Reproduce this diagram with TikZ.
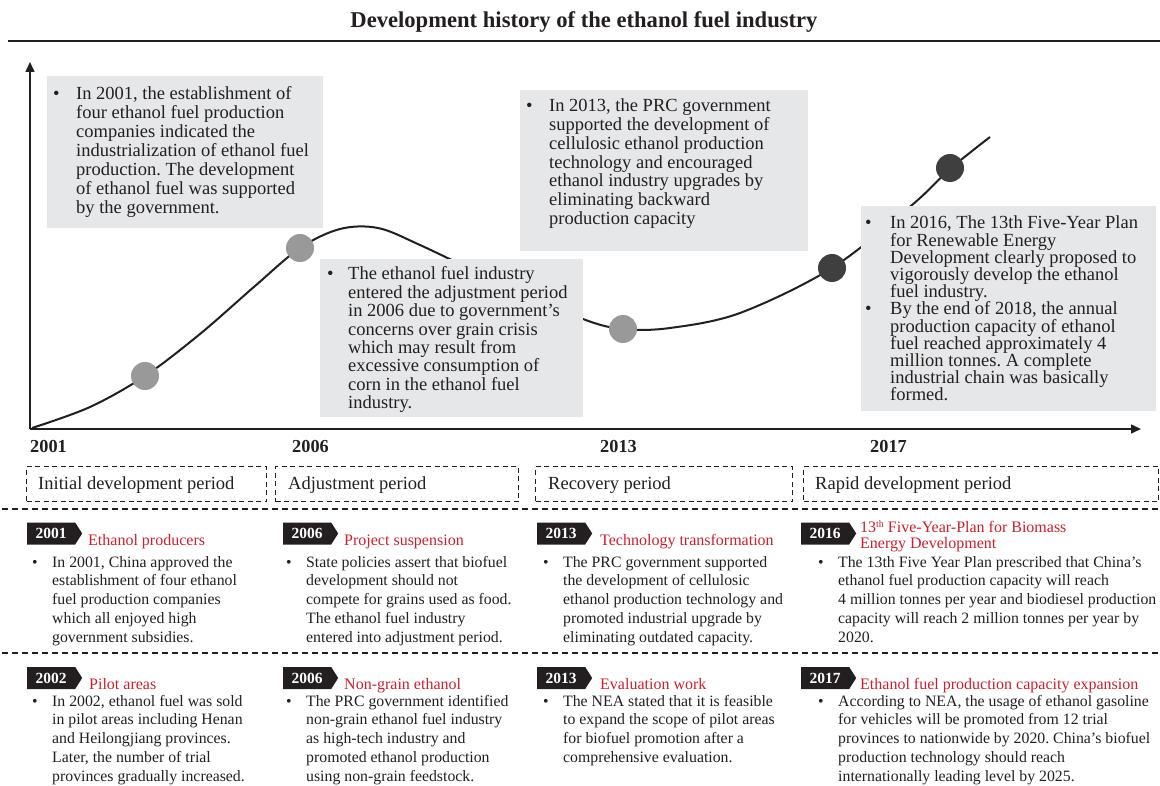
\documentclass[tikz,border=0pt]{standalone}
\usepackage{fontspec}
\setmainfont{Liberation Serif}
\usetikzlibrary{arrows.meta,shapes.symbols}
\frenchspacing
\definecolor{boxgray}{HTML}{E6E7E8}
\definecolor{dotgray}{HTML}{999999}
\definecolor{dotdark}{HTML}{3F3F3F}
\definecolor{headred}{HTML}{C8202F}
\definecolor{txt}{HTML}{231F20}
\newlength\bulw
\newcommand\bitem[1]{\par\hangindent=\bulw\hangafter=1\noindent\makebox[\bulw][l]{\textbullet}#1}
\newcommand\blist[2]{\parbox[t]{420pt}{\frenchspacing\setlength\bulw{#1}\setlength\parskip{0pt}#2}}
\newcommand\hlist[1]{\parbox[t]{400pt}{\noindent #1}}
\begin{document}
\begin{tikzpicture}[x=1pt,y=-1pt,
  gbox/.style={fill=boxgray, draw=none, anchor=north west, inner sep=0pt},
  btxt/.style={anchor=base west, inner sep=0pt, text=txt},
  axis/.style={line width=1.5pt, draw=txt, -{Triangle[length=10pt,width=9pt]}},
  curveline/.style={line width=2pt, draw=txt},
  dotL/.style={circle, fill=dotgray, minimum size=28pt, inner sep=0pt},
  dotD/.style={circle, fill=dotdark, minimum size=28pt, inner sep=0pt},
  yearlbl/.style={anchor=base west, inner sep=0pt, text=txt, font=\fontsize{18.3}{18.3}\selectfont\bfseries},
  pbox/.style={draw=txt, line width=1.1pt, dash pattern=on 5pt off 3.5pt, anchor=north west, inner sep=0pt},
  ptxt/.style={anchor=base west, inner sep=0pt, text=txt, font=\fontsize{18.5}{18.5}\selectfont},
  sepline/.style={draw=txt, line width=1.3pt, dash pattern=on 6pt off 4pt},
  tag/.style={shape=signal, signal to=east, signal pointer angle=115, fill=txt, text=white,
    font=\fontsize{15.5}{15.5}\selectfont\bfseries, minimum width=55pt, minimum height=22pt,
    inner sep=0pt, anchor=west},
  head/.style={anchor=base west, inner sep=0pt, text=headred, font=\fontsize{16}{16}\selectfont},
  small/.style={anchor=base west, inner sep=0pt, text=txt, font=\fontsize{15.8}{18.9}\selectfont}
]
\useasboundingbox (0,0) rectangle (1160,786);

% title
\node[font=\fontsize{22.6}{22.6}\selectfont\bfseries, text=txt] (title) at (584,22) {Development history of the ethanol fuel industry};
\coordinate (r1) at (8,41);
\coordinate (r2) at (1160,41);
\draw[line width=1.5pt, draw=txt] (r1) -- (r2);

% axes
\coordinate (O) at (30,429);
\coordinate (Ytop) at (30,62);
\coordinate (Xend) at (1141,429);
\draw[axis] (O) -- (Ytop);
\draw[axis] (O) -- (Xend);

% curve
\draw[curveline] plot[smooth, tension=0.55] coordinates {(32,428) (90,407) (145,376) (200,334) (255,286) (300,248) (340,229) (378,228) (420,245) (500,283) (583,319) (623,329) (670,328) (740,313) (832,268) (912,205) (950,169) (990,137)};

% gray boxes
\node[gbox, minimum width=276pt, minimum height=152pt] (b1) at (47,76) {};
\node[gbox, minimum width=288pt, minimum height=161pt] (b2) at (520,90) {};
\node[gbox, minimum width=263pt, minimum height=158pt] (b3) at (320,259) {};
\node[gbox, minimum width=295pt, minimum height=205pt] (b4) at (861,206) {};

\node[btxt, font=\fontsize{18.5}{19}\selectfont] (t1) at (53,100) {\blist{23pt}{%
\bitem{In 2001, the establishment of\\
four ethanol fuel production\\
companies indicated the\\
industrialization of ethanol fuel\\
production. The development\\
of ethanol fuel was supported\\
by the government.}}};

\node[btxt, font=\fontsize{18.5}{18.7}\selectfont] (t2) at (526,112) {\blist{23pt}{%
\bitem{In 2013, the PRC government\\
supported the development of\\
cellulosic ethanol production\\
technology and encouraged\\
ethanol industry upgrades by\\
eliminating backward\\
production capacity}}};

\node[btxt, font=\fontsize{18.5}{18.4}\selectfont] (t3) at (327,280) {\blist{21pt}{%
\bitem{The ethanol fuel industry\\
entered the adjustment period\\
in 2006 due to government’s\\
concerns over grain crisis\\
which may result from\\
excessive consumption of\\
corn in the ethanol fuel\\
industry.}}};

\node[btxt, font=\fontsize{18.5}{17.2}\selectfont] (t4) at (865,229) {\blist{25pt}{%
\bitem{In 2016, The 13th Five-Year Plan\\
for Renewable Energy\\
Development clearly proposed to\\
vigorously develop the ethanol\\
fuel industry.}
\bitem{By the end of 2018, the annual\\
production capacity of ethanol\\
fuel reached approximately 4\\
million tonnes. A complete\\
industrial chain was basically\\
formed.}}};

% dots
\node[dotL] (d1) at (145,376) {};
\node[dotL] (d2) at (300,248) {};
\node[dotL] (d3) at (623,329) {};
\node[dotD] (d4) at (832,268) {};
\node[dotD] (d5) at (950,168) {};

% year labels
\node[yearlbl] (y1) at (30,453) {2001};
\node[yearlbl] (y2) at (292,453) {2006};
\node[yearlbl] (y3) at (600,453) {2013};
\node[yearlbl] (y4) at (870,453) {2017};

% period boxes
\node[pbox, minimum width=240pt, minimum height=35pt] (p1) at (26,466) {};
\node[pbox, minimum width=243pt, minimum height=35pt] (p2) at (275,466) {};
\node[pbox, minimum width=257pt, minimum height=35pt] (p3) at (535,466) {};
\node[pbox, minimum width=355pt, minimum height=35pt] (p4) at (803,466) {};
\node[ptxt] (pt1) at (38,489) {Initial development period};
\node[ptxt] (pt2) at (288,489) {Adjustment period};
\node[ptxt] (pt3) at (548,489) {Recovery period};
\node[ptxt] (pt4) at (815,489) {Rapid development period};

% separators
\coordinate (s1a) at (2,509);
\coordinate (s1b) at (1160,509);
\coordinate (s2a) at (2,653);
\coordinate (s2b) at (1160,653);
\draw[sepline] (s1a) -- (s1b);
\draw[sepline] (s2a) -- (s2b);

% row 1
\node[tag] (g11) at (27,533.5) {2001\hspace{5pt}};
\node[tag] (g12) at (283,533.5) {2006\hspace{5pt}};
\node[tag] (g13) at (537,533.5) {2013\hspace{5pt}};
\node[tag] (g14) at (801,533.5) {2016\hspace{5pt}};
\node[head] (h11) at (88,545) {Ethanol producers};
\node[head] (h12) at (344,545) {Project suspension};
\node[head] (h13) at (600,545) {Technology transformation};
\node[head] (h14) at (860,532) {\hlist{13{\fontsize{10}{10}\selectfont\raisebox{5pt}{th}} Five-Year-Plan for Biomass\\Energy Development}};

\node[small] (c11) at (32,567) {\blist{20pt}{%
\bitem{In 2001, China approved the\\
establishment of four ethanol\\
fuel production companies\\
which all enjoyed high\\
government subsidies.}}};
\node[small] (c12) at (286,567) {\blist{20pt}{%
\bitem{State policies assert that biofuel\\
development should not\\
compete for grains used as food.\\
The ethanol fuel industry\\
entered into adjustment period.}}};
\node[small] (c13) at (543,567) {\blist{20pt}{%
\bitem{The PRC government supported\\
the development of cellulosic\\
ethanol production technology and\\
promoted industrial upgrade by\\
eliminating outdated capacity.}}};
\node[small] (c14) at (818,567) {\blist{20pt}{%
\bitem{The 13th Five Year Plan prescribed that China’s\\
ethanol fuel production capacity will reach\\
4 million tonnes per year and biodiesel production\\
capacity will reach 2 million tonnes per year by\\
2020.}}};

% row 2
\node[tag] (g21) at (27,678) {2002\hspace{5pt}};
\node[tag] (g22) at (283,678) {2006\hspace{5pt}};
\node[tag] (g23) at (537,678) {2013\hspace{5pt}};
\node[tag] (g24) at (801,678) {2017\hspace{5pt}};
\node[head] (h21) at (89,689) {Pilot areas};
\node[head] (h22) at (344,689) {Non-grain ethanol};
\node[head] (h23) at (600,689) {Evaluation work};
\node[head] (h24) at (860,689) {Ethanol fuel production capacity expansion};

\node[small] (c21) at (32,706) {\blist{20pt}{%
\bitem{In 2002, ethanol fuel was sold\\
in pilot areas including Henan\\
and Heilongjiang provinces.\\
Later, the number of trial\\
provinces gradually increased.}}};
\node[small] (c22) at (286,706) {\blist{20pt}{%
\bitem{The PRC government identified\\
non-grain ethanol fuel industry\\
as high-tech industry and\\
promoted ethanol production\\
using non-grain feedstock.}}};
\node[small] (c23) at (543,706) {\blist{20pt}{%
\bitem{The NEA stated that it is feasible\\
to expand the scope of pilot areas\\
for biofuel promotion after a\\
comprehensive evaluation.}}};
\node[small] (c24) at (818,706) {\blist{20pt}{%
\bitem{According to NEA, the usage of ethanol gasoline\\
for vehicles will be promoted from 12 trial\\
provinces to nationwide by 2020. China’s biofuel\\
production technology should reach\\
internationally leading level by 2025.}}};
\end{tikzpicture}
\end{document}
